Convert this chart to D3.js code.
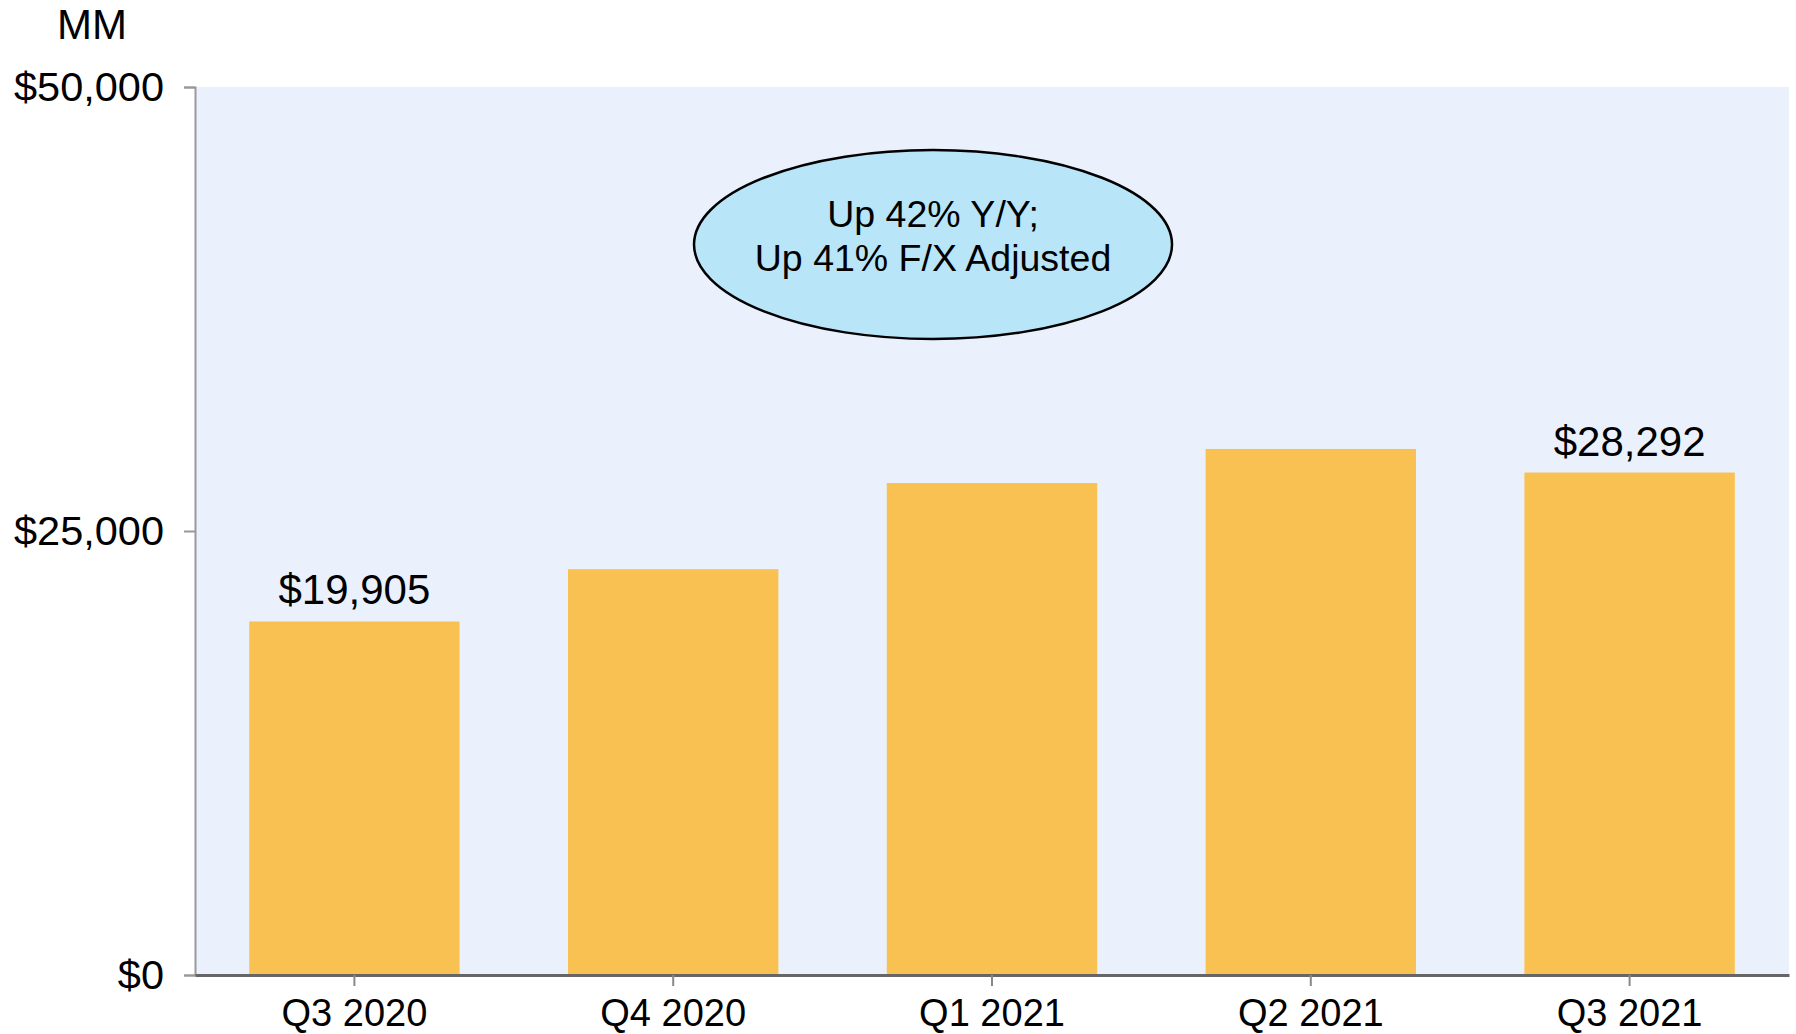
<!DOCTYPE html>
<html>
<head>
<meta charset="utf-8">
<script src="https://cdn.jsdelivr.net/npm/d3@7"></script>
<style>
	body { margin: 0; background: #fff; }
	svg { display: block; font-family: "Liberation Sans", Arial, sans-serif; }
</style>
</head>
<body>
<div id="chart"></div>
<script>
'use strict';
(function() {
	//Data
	var quarters = ['Q3 2020','Q4 2020','Q1 2021','Q2 2021','Q3 2021'];
	var revenue = [19905, 22850, 27700, 29620, 28292];
	//only first and last bars carry a value label
	var labelled = [true, false, false, false, true];
	var yTicks = [0, 25000, 50000];
	var calloutLines = ['Up 42% Y/Y;', 'Up 41% F/X Adjusted'];

	var W = 1796, H = 1034;
	var margin = {top: 87, right: 7, bottom: 59, left: 195};

	var svg = d3.select('#chart').append('svg')
		.attr('width', W)
		.attr('height', H);

	var x = d3.scaleBand()
		.domain(quarters)
		.range([margin.left, W - margin.right])
		.paddingInner(0.34)
		.paddingOuter(0.17);

	var y = d3.scaleLinear()
		.domain([0, 50000])
		.range([H - margin.bottom, margin.top]);

	//plot background
	svg.append('rect')
		.attr('x', margin.left)
		.attr('y', y(50000))
		.attr('width', W - margin.right - margin.left)
		.attr('height', y(0) - y(50000))
		.attr('fill', '#eaf1fc');

	//bars
	svg.append('g').selectAll('rect')
		.data(revenue)
		.enter().append('rect')
			.attr('x', function(d,i){return x(quarters[i]);})
			.attr('y', function(d){return y(d);})
			.attr('width', x.bandwidth())
			.attr('height', function(d){return y(0) - y(d);})
			.attr('fill', '#f9c151');

	//value labels
	svg.append('g').selectAll('text')
		.data(revenue.filter(function(d,i){return labelled[i];}))
		.enter().append('text')
			.attr('x', function(d){return x(quarters[revenue.indexOf(d)]) + x.bandwidth()/2;})
			.attr('y', function(d){return y(d) - 17;})
			.attr('text-anchor', 'middle')
			.style('font-size', '42px')
			.attr('fill', '#000')
			.text(function(d){return '$' + d3.format(',')(d);});

	//y axis
	var yAxis = svg.append('g')
		.attr('transform', 'translate(' + margin.left + ',0)')
		.call(d3.axisLeft(y).tickValues(yTicks).tickSize(11).tickPadding(20)
			.tickFormat(function(d){return '$' + d3.format(',')(d);}));
	yAxis.select('.domain').attr('stroke', '#999').attr('stroke-width', 2);
	yAxis.selectAll('.tick line').attr('stroke', '#999').attr('stroke-width', 2);
	yAxis.selectAll('text')
		.style('font-size', '41.5px')
		.style('font-family', '"Liberation Sans", Arial, sans-serif')
		.attr('fill', '#000');

	//x axis
	var xAxis = svg.append('g')
		.attr('transform', 'translate(0,' + y(0) + ')')
		.call(d3.axisBottom(x).tickSize(11).tickSizeOuter(0).tickPadding(13));
	xAxis.select('.domain').attr('stroke', '#666').attr('stroke-width', 3);
	xAxis.selectAll('.tick line').attr('stroke', '#888').attr('stroke-width', 2);
	xAxis.selectAll('text')
		.style('font-size', '38px')
		.style('font-family', '"Liberation Sans", Arial, sans-serif')
		.attr('fill', '#000');

	//unit label
	svg.append('text')
		.attr('x', 92)
		.attr('y', 39)
		.attr('text-anchor', 'middle')
		.style('font-size', '42px')
		.text('MM');

	//callout ellipse
	var plotW = W - margin.right - margin.left;
	var cx = margin.left + plotW * 0.463,
		cy = y(41130);
	var callout = svg.append('g');
	callout.append('ellipse')
		.attr('cx', cx)
		.attr('cy', cy)
		.attr('rx', 239)
		.attr('ry', y(0) - y(5320))
		.attr('fill', '#b9e5f8')
		.attr('stroke', '#000')
		.attr('stroke-width', 2.5);
	callout.selectAll('text')
		.data(calloutLines)
		.enter().append('text')
			.attr('x', cx)
			.attr('y', function(d,i){return cy - 18 + i*44;})
			.attr('text-anchor', 'middle')
			.style('font-size', '37.5px')
			.text(function(d){return d;});
})();
</script>
</body>
</html>
